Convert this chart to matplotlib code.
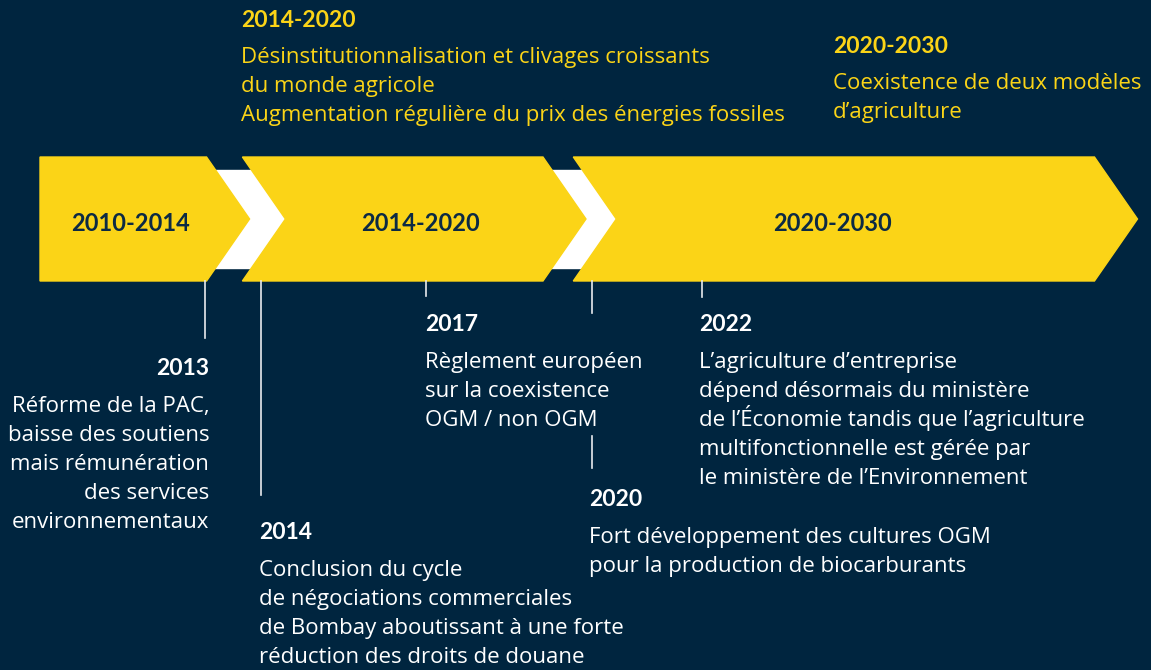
import matplotlib.pyplot as plt
from matplotlib.patches import Polygon, Rectangle

plt.rcParams['font.family'] = ['Lato', 'DejaVu Sans']
BODY = ['Open Sans', 'DejaVu Sans']

BG = '#00253f'
YELLOW = '#fbd417'
NAVY = '#0c2a44'
WHITE = '#ffffff'

# periods shown as arrows
period_labels = ['2010-2014', '2014-2020', '2020-2030']
period_start = [2010, 2014, 2020]
period_end = [2014, 2020, 2030]

# context notes above the arrows
context_titles = ['2014-2020', '2020-2030']
context_lines = [
    ['Désinstitutionnalisation et clivages croissants',
     'du monde agricole',
     'Augmentation régulière du prix des énergies fossiles'],
    ['Coexistence de deux modèles',
     'd’agriculture'],
]

# events below the arrows
event_years = [2013, 2014, 2017, 2020, 2022]
event_lines = [
    ['Réforme de la PAC,', 'baisse des soutiens', 'mais rémunération',
     'des services', 'environnementaux'],
    ['Conclusion du cycle', 'de négociations commerciales',
     'de Bombay aboutissant à une forte', 'réduction des droits de douane'],
    ['Règlement européen', 'sur la coexistence', 'OGM / non OGM'],
    ['Fort développement des cultures OGM',
     'pour la production de biocarburants'],
    ['L’agriculture d’entreprise', 'dépend désormais du ministère',
     'de l’Économie tandis que l’agriculture',
     'multifonctionnelle est gérée par', 'le ministère de l’Environnement'],
]

# layout (y in pixels from top, x in years)
PX = 55.15          # pixels per year
X0 = 40             # pixel of 2010
def yr(px):
    return 2010 + (px - X0) / PX

top, bot, mid = 157, 281, 219
head = 0.78
event_title_y = [375, 539, 331, 506, 331]
event_line_end = [338, 495, 296, 313, 297]
event_align = ['right', 'left', 'left', 'left', 'left']
event_dx = [0.07, -0.02, -0.02, -0.04, -0.05]
label_x = [yr(131), yr(421), yr(832)]
context_x = [yr(241), yr(833)]
context_title_y = [27, 53]
body_size = 16

fig = plt.figure(figsize=(11.51, 6.70), dpi=100)
fig.patch.set_facecolor(BG)
ax = fig.add_axes([0, 0, 1, 1])
ax.set_facecolor(BG)
ax.set_xlim(yr(0), yr(1151))
ax.set_ylim(670, 0)
ax.axis('off')

# white band behind the arrows
ax.add_patch(Rectangle((period_start[0] + 2, 170), period_end[1] - period_start[0],
                       98, color=WHITE, zorder=1))

for i, (s, e, lab) in enumerate(zip(period_start, period_end, period_labels)):
    tip = e - 0.1 if i else e - 0.2
    if i == 0:
        pts = [(s, top), (tip - head, top), (tip, mid), (tip - head, bot), (s, bot)]
    else:
        left = s - 0.33
        pts = [(left, top), (tip - head, top), (tip, mid), (tip - head, bot),
               (left, bot), (left + head, mid)]
    ax.add_patch(Polygon(pts, closed=True, color=YELLOW, zorder=2))
    ax.text(label_x[i], 231, lab, color=NAVY, fontsize=17, fontweight='bold',
            ha='center', va='baseline', zorder=3)

for x, t, lines, ty in zip(context_x, context_titles, context_lines, context_title_y):
    ax.text(x, ty, t, color=YELLOW, fontsize=16.5, fontweight='bold', va='baseline')
    for j, ln in enumerate(lines):
        ax.text(x, ty + 36 + 29 * j, ln, color=YELLOW, fontsize=body_size,
                family=BODY, va='baseline')

for i, (y, lines) in enumerate(zip(event_years, event_lines)):
    ax.plot([y, y], [bot, event_line_end[i]], color='#e8eaee', lw=1.2, zorder=3)
    tx = y + event_dx[i]
    ty = event_title_y[i]
    ax.text(tx, ty, str(y), color=WHITE, fontsize=16.5, fontweight='bold',
            ha=event_align[i], va='baseline')
    for j, ln in enumerate(lines):
        ax.text(tx, ty + 37 + 29 * j, ln, color=WHITE, fontsize=body_size,
                family=BODY, ha=event_align[i], va='baseline')

# short connector above the 2020 title
ax.plot([2020, 2020], [436, 468], color='#e8eaee', lw=1.2)

fig.savefig('out.png', dpi=100, facecolor=BG)
